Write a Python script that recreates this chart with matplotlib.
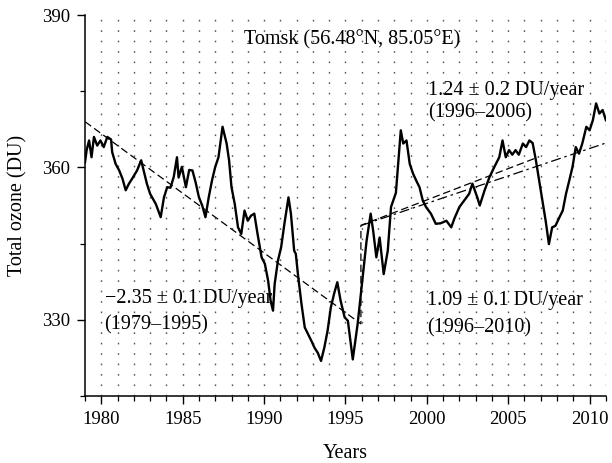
import matplotlib
matplotlib.use("Agg")
import matplotlib.pyplot as plt
from matplotlib.ticker import MultipleLocator

# ---- data ----
years = [1979.0, 1979.1, 1979.25, 1979.4, 1979.55, 1979.75, 1979.95, 1980.15, 1980.37, 1980.6,
         1980.67, 1980.88, 1981.1, 1981.3, 1981.5, 1981.7, 1981.9, 1982.2, 1982.45, 1982.6,
         1982.8, 1983.0, 1983.35, 1983.65, 1983.85, 1984.05, 1984.25, 1984.45, 1984.65, 1984.75,
         1984.95, 1985.2, 1985.4, 1985.6, 1985.8, 1986.0, 1986.2, 1986.4, 1986.6, 1986.8,
         1987.0, 1987.2, 1987.45, 1987.7, 1987.85, 1988.0, 1988.2, 1988.4, 1988.6, 1988.8,
         1989.0, 1989.2, 1989.4, 1989.6, 1989.85, 1990.05, 1990.25, 1990.4, 1990.55, 1990.65,
         1990.85, 1991.05, 1991.25, 1991.5, 1991.65, 1991.85, 1991.95, 1992.1, 1992.3, 1992.5,
         1992.7, 1992.9, 1993.1, 1993.3, 1993.5, 1993.7, 1993.9, 1994.1, 1994.3, 1994.5,
         1994.7, 1994.95, 1995.15, 1995.45, 1995.75, 1995.95, 1996.1, 1996.3, 1996.55, 1996.7,
         1996.9, 1997.1, 1997.35, 1997.6, 1997.8, 1998.0, 1998.1, 1998.4, 1998.55, 1998.75,
         1998.95, 1999.15, 1999.35, 1999.55, 1999.75, 1999.95, 2000.25, 2000.55, 2000.85, 2001.2,
         2001.5, 2001.7, 2002.0, 2002.3, 2002.6, 2002.8, 2003.1, 2003.25, 2003.55, 2003.85,
         2004.15, 2004.45, 2004.65, 2004.85, 2005.05, 2005.25, 2005.45, 2005.65, 2005.9, 2006.1,
         2006.3, 2006.5, 2006.7, 2006.9, 2007.1, 2007.3, 2007.5, 2007.7, 2007.9, 2008.15,
         2008.35, 2008.55, 2008.75, 2008.95, 2009.15, 2009.35, 2009.55, 2009.8, 2010.0, 2010.2,
         2010.4, 2010.6, 2010.8, 2011.0]
ozone = [361.0, 363.4, 365.3, 362.0, 366.0, 364.3, 365.3, 364.0, 366.0, 365.5,
         363.0, 360.7, 359.4, 357.8, 355.5, 356.8, 357.8, 359.4, 361.4, 359.4,
         356.8, 354.8, 352.8, 350.2, 354.1, 356.1, 356.0, 358.1, 362.0, 358.0,
         360.1, 356.1, 359.5, 359.4, 357.0, 354.1, 352.5, 350.2, 354.1, 357.4,
         360.1, 362.0, 368.0, 364.7, 361.4, 356.1, 352.8, 348.2, 346.9, 351.5,
         349.5, 350.5, 350.9, 346.9, 342.3, 341.0, 337.7, 333.8, 331.8, 337.0,
         341.6, 344.3, 348.9, 354.1, 350.9, 343.6, 343.0, 338.4, 333.1, 328.5,
         327.2, 325.9, 324.5, 323.5, 321.9, 324.5, 327.8, 332.4, 335.1, 337.4,
         333.8, 330.5, 329.8, 322.2, 329.2, 335.1, 339.7, 345.6, 350.9, 347.6,
         342.3, 346.2, 339.0, 343.6, 352.2, 354.1, 355.0, 367.3, 364.7, 365.3,
         360.7, 358.8, 357.4, 356.1, 353.5, 352.2, 350.9, 348.9, 349.0, 349.5,
         348.2, 350.0, 352.2, 353.5, 354.8, 356.8, 354.1, 352.5, 355.5, 358.1,
         360.1, 362.0, 365.3, 362.0, 363.4, 362.5, 363.4, 362.5, 364.7, 364.0,
         365.3, 364.8, 361.4, 357.4, 353.5, 349.5, 344.9, 348.2, 348.5, 350.2,
         351.5, 354.8, 357.4, 360.1, 364.0, 362.7, 364.7, 368.0, 367.3, 369.3,
         372.6, 370.6, 371.3, 369.3]

# trend lines (endpoints)
trend1_years = [1979.0, 1995.95, 1995.95, 2006.9]
trend1_vals = [369.0, 329.2, 348.6, 362.1]
trend2_years = [1996.0, 2011.0]
trend2_vals = [348.6, 364.8]

xticks = [1980, 1985, 1990, 1995, 2000, 2005, 2010]
yticks = [330, 360, 390]

plt.rcParams['font.family'] = ['Liberation Serif', 'DejaVu Serif']
FS = 14.5
TFS = 13.5

fig = plt.figure(figsize=(6.12, 4.63), dpi=100)
ax = fig.add_axes([0.1389, 0.1447, 0.990 - 0.1389, 0.9676 - 0.1447])

ax.set_xlim(1979, 2011)
ax.set_ylim(315, 390)

# vertical dotted grid every year
for yr in range(1980, 2012):
    ax.axvline(yr, color='#555555', lw=1.0, linestyle=(0, (1.2, 6.3)), zorder=0)

ax.plot(years, ozone, color='black', lw=1.7, zorder=3)
ax.plot(trend1_years, trend1_vals, color='black', lw=0.9, linestyle=(0, (6, 3)), zorder=4)
ax.plot(trend2_years, trend2_vals, color='black', lw=0.9, linestyle=(0, (8, 3, 2, 3)), zorder=4)

ax.set_xticks(xticks)
ax.set_yticks(yticks)
ax.xaxis.set_minor_locator(MultipleLocator(1))
ax.yaxis.set_minor_locator(MultipleLocator(15))
ax.tick_params(axis='both', which='major', direction='out', length=6, width=1.0,
               labelsize=TFS, pad=5)
ax.tick_params(axis='both', which='minor', direction='out', length=3.5, width=0.9)

for s in ['top', 'right']:
    ax.spines[s].set_visible(False)
for s in ['left', 'bottom']:
    ax.spines[s].set_linewidth(1.1)

ax.set_xlabel('Years', fontsize=FS, labelpad=11)
ax.set_ylabel('Total ozone (DU)', fontsize=FS, labelpad=10)

ax.text(1995.4, 385.1, 'Tomsk (56.48°N, 85.05°E)', fontsize=FS, ha='center', va='center')
ax.text(2000.05, 375.2, '1.24 ± 0.2 DU/year', fontsize=FS, ha='left', va='center')
ax.text(2000.05, 370.7, '(1996–2006)', fontsize=FS, ha='left', va='center')
ax.text(1980.2, 334.1, '−2.35 ± 0.1 DU/year', fontsize=FS, ha='left', va='center')
ax.text(1980.2, 329.0, '(1979–1995)', fontsize=FS, ha='left', va='center')
ax.text(2000.0, 333.8, '1.09 ± 0.1 DU/year', fontsize=FS, ha='left', va='center')
ax.text(2000.0, 328.4, '(1996–2010)', fontsize=FS, ha='left', va='center')

fig.savefig('out.png', dpi=100)
